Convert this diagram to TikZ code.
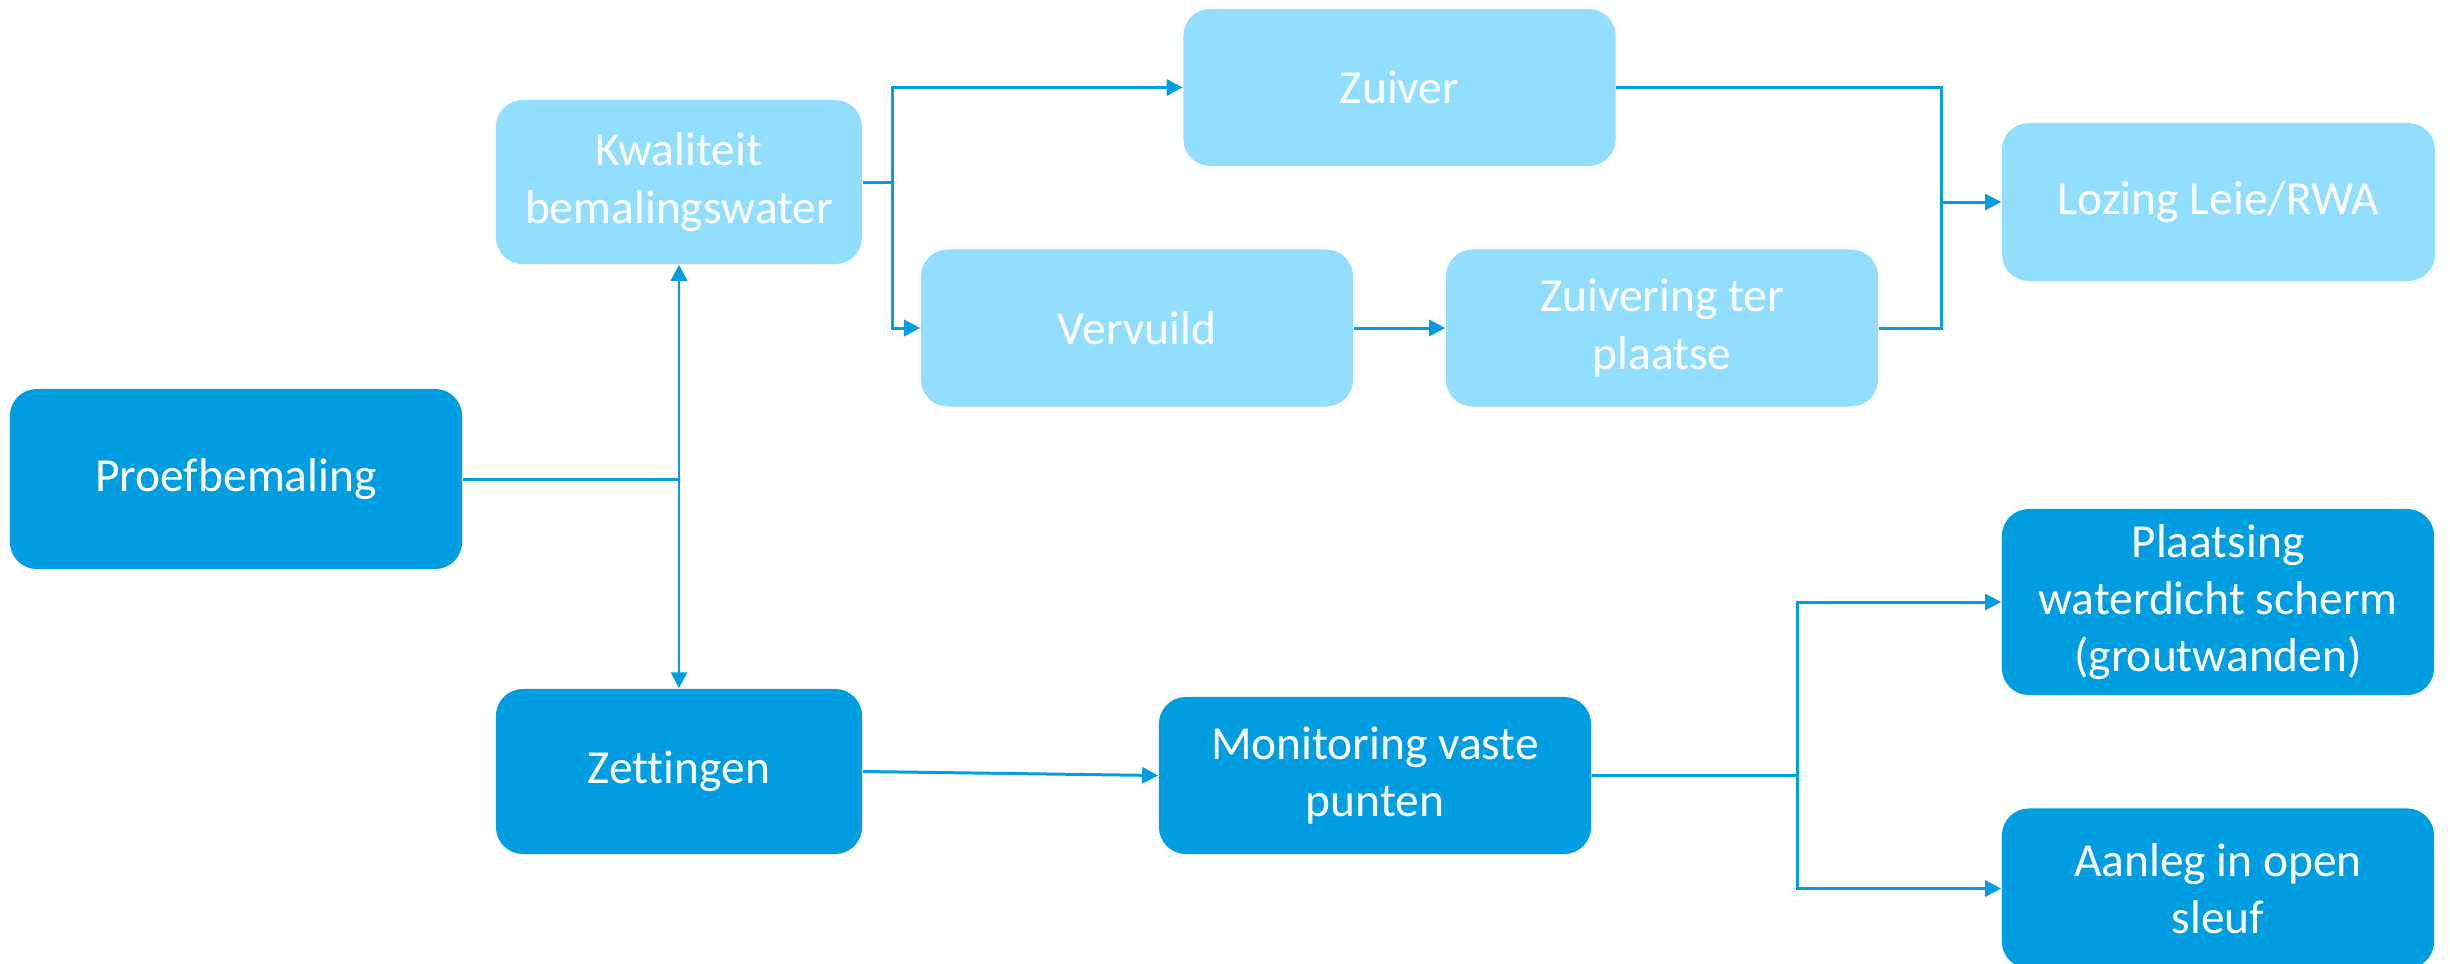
\documentclass[tikz,border=0pt]{standalone}
\usepackage{fontspec}
\setmainfont{Carlito}[Ligatures=NoCommon]
\usepackage{xcolor}
\usepackage{tikz}
\usetikzlibrary{arrows.meta}
\definecolor{donker}{RGB}{0,158,224}
\definecolor{licht}{RGB}{145,222,254}

\begin{document}
\begin{tikzpicture}[x=0.01cm,y=-0.01cm,
    every node/.style={shape=rectangle,rounded corners=0.27cm,align=center,text=white,inner sep=0pt,
      font=\fontsize{13.5}{16.3}\selectfont,minimum width=4.32cm,minimum height=1.57cm},
    donkerbox/.style={fill=donker},
    lichtbox/.style={fill=licht},
    lijn/.style={draw=donker,line width=0.85pt},
    pijl/.style={lijn,-{Triangle[length=0.16cm,width=0.16cm]}}]
      \useasboundingbox (0,0) rectangle (2450,963);
      \node[donkerbox,minimum width=4.52cm,minimum height=1.8cm] (proef) at (236,479) {Proefbemaling};
      \node[lichtbox,minimum width=3.66cm,minimum height=1.64cm] (kwal) at (679,182) {Kwaliteit\\bemalingswater};
      \node[donkerbox,minimum width=3.66cm,minimum height=1.65cm] (zet) at (679,771.5) {Zettingen};
      \node[lichtbox] (zuiver) at (1399.5,87.5) {Zuiver};
      \node[lichtbox] (vervuild) at (1137,328) {Vervuild};
      \node[lichtbox] (zuivering) at (1662,328) {Zuivering ter\\plaatse};
      \node[lichtbox,minimum width=4.33cm,minimum height=1.58cm] (lozing) at (2218.5,202) {Lozing Leie/RWA};
      \node[donkerbox] (monitoring) at (1375,775.5) {Monitoring vaste\\punten};
      \node[donkerbox,minimum height=1.86cm] (scherm) at (2218,602) {Plaatsing\\waterdicht scherm\\(groutwanden)};
      \node[donkerbox,minimum height=1.6cm] (sleuf) at (2218,888.5) {Aanleg in open\\sleuf};
      \coordinate (samen) at (1941,202);
      % bemaling splitst
      \draw[pijl] (proef.east) -| (kwal.south);
      \draw[pijl] (proef.east) -| (zet.north);
      % waterkwaliteit
      \draw[pijl] (kwal.east) -- ++(30,0) |- (zuiver.west);
      \draw[pijl] (kwal.east) -- ++(30,0) |- (vervuild.west);
      \draw[pijl] (vervuild) -- (zuivering);
      \draw[lijn] (zuiver.east) -| (samen);
      \draw[lijn] (zuivering.east) -| (samen);
      \draw[pijl] (samen) -- (lozing.west);
      % zettingen
      \draw[pijl] (zet.east) -- (monitoring.west);
      \draw[pijl] (monitoring.east) -- ++(206,0) |- (scherm.west);
      \draw[pijl] (monitoring.east) -- ++(206,0) |- (sleuf.west);
\end{tikzpicture}
\end{document}
